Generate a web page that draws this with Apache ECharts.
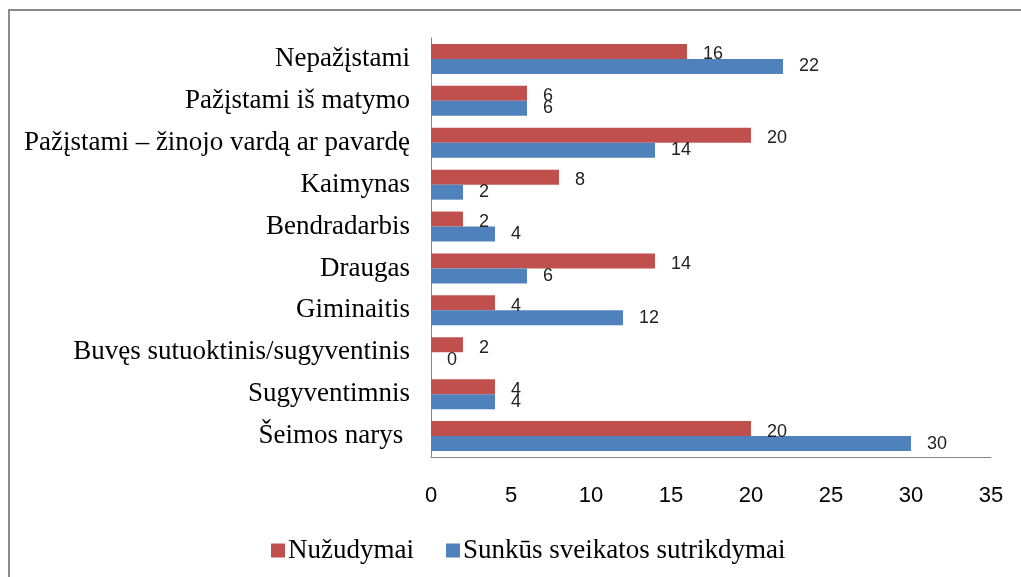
<!DOCTYPE html>
<html>
<head>
<meta charset="utf-8">
<script src="https://cdn.jsdelivr.net/npm/echarts@6/dist/echarts.min.js"></script>
<style>
  html, body { margin: 0; padding: 0; background: #fff; }
  #chart { width: 1021px; height: 577px; }
</style>
</head>
<body>
<div id="chart"></div>
<script>
// kategorijos (iš apačios į viršų)
const categories = [
  'Šeimos narys ',
  'Sugyventimnis',
  'Buvęs sutuoktinis/sugyventinis',
  'Giminaitis',
  'Draugas',
  'Bendradarbis',
  'Kaimynas',
  'Pažįstami – žinojo vardą ar pavardę',
  'Pažįstami iš matymo',
  'Nepažįstami'
];
const nuzudymai = [20, 4, 2, 4, 14, 2, 8, 20, 6, 16];
const sutrikdymai = [30, 4, 0, 12, 6, 4, 2, 14, 6, 22];
const seriesNames = ['Nužudymai', 'Sunkūs sveikatos sutrikdymai'];
const xTicks = [0, 35, 5]; // min, max, interval

const serif = '"Liberation Serif", "DejaVu Serif", serif';
const sans = '"Liberation Sans", Arial, sans-serif';

const chart = echarts.init(document.getElementById('chart'));
const labelStyle = {
  show: true,
  position: 'right',
  distance: 16,
  fontFamily: sans,
  fontSize: 18,
  color: '#222'
};

const option = {
  animation: false,
  graphic: [{
    type: 'rect',
    shape: { x: 9, y: 10, width: 1100, height: 700 },
    style: { fill: 'none', stroke: '#8c8c8c', lineWidth: 2 }
  }],
  grid: { left: 431, right: 30, top: 38, bottom: 120 },
  legend: {
    data: seriesNames,
    left: 266,
    top: 532,
    icon: 'rect',
    itemWidth: 14,
    itemHeight: 14,
    itemGap: 32,
    textStyle: { fontFamily: serif, fontSize: 27, color: '#000', padding: [0, 0, 0, -2] }
  },
  xAxis: {
    type: 'value',
    min: xTicks[0],
    max: xTicks[1],
    interval: xTicks[2],
    axisLine: { show: true, lineStyle: { color: '#868686' } },
    axisTick: { show: false },
    splitLine: { show: false },
    axisLabel: { fontFamily: sans, fontSize: 22, color: '#000', margin: 28 }
  },
  yAxis: {
    type: 'category',
    data: categories,
    axisLine: { show: true, lineStyle: { color: '#868686' } },
    axisTick: { show: false },
    axisLabel: { fontFamily: serif, fontSize: 27, color: '#000', margin: 21 }
  },
  series: [
    {
      name: seriesNames[0],
      type: 'bar',
      data: nuzudymai,
      barWidth: 15,
      barGap: '0%',
      itemStyle: { color: '#C0504D' },
      label: Object.assign({}, labelStyle, { offset: [0, 3] })
    },
    {
      name: seriesNames[1],
      type: 'bar',
      data: sutrikdymai,
      barWidth: 15,
      barGap: '0%',
      itemStyle: { color: '#4F81BD' },
      label: labelStyle
    }
  ]
};
chart.setOption(option);
</script>
</body>
</html>
